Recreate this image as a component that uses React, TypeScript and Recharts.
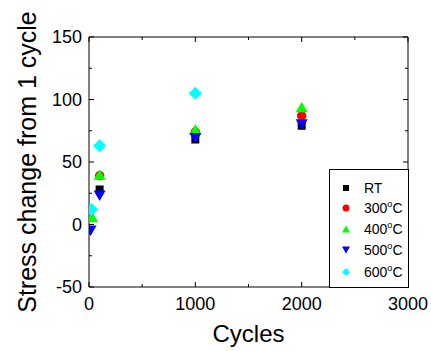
import React from 'react';
import { ScatterChart, Scatter, XAxis, YAxis, Legend } from 'recharts';

const FONT = '"Liberation Sans", Arial, sans-serif';

// Data
const seriesNames = ['RT', '300', '400', '500', '600'];
const rtCycles = [100, 1000, 2000];
const rtValues = [28, 68, 79];
const t300Cycles = [100, 1000, 2000];
const t300Values = [39, 74, 87];
const t400Cycles = [30, 100, 1000, 2000];
const t400Values = [6, 40, 76, 94];
const t500Cycles = [15, 100, 1000, 2000];
const t500Values = [-5, 23, 69, 80];
const t600Cycles = [25, 100, 1000];
const t600Values = [12, 63, 105];

const xTicks = [0, 500, 1000, 1500, 2000, 2500, 3000];
const yTicks = [-50, -25, 0, 25, 50, 75, 100, 125, 150];
const xMin = 0;
const xMax = 3000;
const yMin = -50;
const yMax = 150;

// Layout
const W = 431;
const H = 351;
const M = { top: 37, right: 23, bottom: 0, left: 0 };
const Y_AXIS_W = 89;
const X_AXIS_H = 64;
const PLOT_W = 319;
const PLOT_H = 250;

const toPoints = (xs: number[], ys: number[]) => xs.map((x, i) => ({ x, y: ys[i] }));

const colors = ['#000000', '#ff0000', '#00ff00', '#0000ff', '#00ffff'];

const Marker = ({ kind, cx, cy, s, fill }: any) => {
  if (kind === 0) return <rect x={cx - s / 2} y={cy - s / 2} width={s} height={s} fill={fill} />;
  if (kind === 1) return <circle cx={cx} cy={cy} r={s / 2} fill={fill} />;
  if (kind === 2) {
    const h = s * 0.87;
    return <polygon points={`${cx},${cy - h / 2} ${cx - s / 2},${cy + h / 2} ${cx + s / 2},${cy + h / 2}`} fill={fill} />;
  }
  if (kind === 3) {
    const h = s * 0.87;
    return <polygon points={`${cx},${cy + h / 2} ${cx - s / 2},${cy - h / 2} ${cx + s / 2},${cy - h / 2}`} fill={fill} />;
  }
  return <polygon points={`${cx},${cy - s / 2} ${cx + s / 2},${cy} ${cx},${cy + s / 2} ${cx - s / 2},${cy}`} fill={fill} />;
};

const plotSizes = [8, 9.5, 12, 12, 13];
const legendSizes = [6, 7, 8, 8, 8];

const makeShape = (kind: number) => (props: any) =>
  <Marker kind={kind} cx={props.cx} cy={props.cy} s={plotSizes[kind]} fill={colors[kind]} />;

// bottom axis tick: also draws the matching inward tick on the top frame
const BottomTick = (p: any) => {
  const v = p.payload.value;
  const major = v % 1000 === 0;
  const len = major ? 5 : 3;
  const x = Number(p.x);
  const y = Number(p.y);
  const topY = y - PLOT_H;
  return (
    <g>
      <path d={`M${x},${y}V${y - len}M${x},${topY}V${topY + len}`} stroke="#000" strokeWidth={1} fill="none" />
      {major && (
        <text x={x} y={y + 23} textAnchor="middle" fontSize={18} fontFamily={FONT} fill="#000">{v}</text>
      )}
    </g>
  );
};
// left axis tick: also draws the matching inward tick on the right frame
const LeftTick = (p: any) => {
  const v = p.payload.value;
  const major = v % 50 === 0;
  const len = major ? 5 : 3;
  const x = Number(p.x);
  const y = Number(p.y);
  const rightX = x + PLOT_W;
  return (
    <g>
      <path d={`M${x},${y}H${x + len}M${rightX},${y}H${rightX - len}`} stroke="#000" strokeWidth={1} fill="none" />
      {major && (
        <text x={x - 7} y={y + 6.4} textAnchor="end" fontSize={18} fontFamily={FONT} fill="#000">{v}</text>
      )}
    </g>
  );
};

const LegendBox = () => (
  <div style={{ position: 'relative', width: 80, height: 119, border: '1px solid #000', boxSizing: 'border-box', background: '#fff', fontFamily: FONT, fontSize: 14, color: '#000' }}>
    {seriesNames.map((n, i) => {
      const top = [18, 38, 59, 80, 102][i];
      return (
        <div key={n}>
          <svg style={{ position: 'absolute', left: 10, top: top - 6 }} width={12} height={12}>
            <Marker kind={i} cx={6} cy={6} s={legendSizes[i]} fill={colors[i]} />
          </svg>
          <div style={{ position: 'absolute', left: 34, top: top - 9, lineHeight: '18px', whiteSpace: 'nowrap' }}>
            {i === 0 ? n : (<span>{n}<sup style={{ fontSize: 9, verticalAlign: 'top', lineHeight: '10px' }}>o</sup>C</span>)}
          </div>
        </div>
      );
    })}
  </div>
);

export default function App() {
  const all = [
    toPoints(rtCycles, rtValues),
    toPoints(t300Cycles, t300Values),
    toPoints(t400Cycles, t400Values),
    toPoints(t500Cycles, t500Values),
    toPoints(t600Cycles, t600Values),
  ];
  return (
    <div>
      <style>{'body{margin:0;overflow:hidden}'}</style>
      <ScatterChart width={W} height={H} margin={M}>
        <XAxis
          dataKey="x"
          type="number"
          domain={[xMin, xMax]}
          allowDataOverflow
          ticks={xTicks}
          interval={0}
          height={X_AXIS_H}
          tickSize={0}
          tickMargin={0}
          tick={BottomTick}
          axisLine={{ stroke: '#000' }}
          label={(props: any) => {
            const vb = props.viewBox;
            return (
              <text x={vb.x + vb.width / 2} y={vb.y + 55} textAnchor="middle" fontSize={24} fontFamily={FONT} fill="#000">Cycles</text>
            );
          }}
        />
        <YAxis
          dataKey="y"
          type="number"
          domain={[yMin, yMax]}
          allowDataOverflow
          ticks={yTicks}
          interval={0}
          width={Y_AXIS_W}
          tickSize={0}
          tickMargin={0}
          tick={LeftTick}
          axisLine={{ stroke: '#000' }}
          label={(props: any) => {
            const vb = props.viewBox;
            const cy = vb.y + vb.height / 2;
            const x0 = vb.x + vb.width;
            const y0 = vb.y;
            return (
              <g>
                <path d={`M${x0},${y0}H${x0 + PLOT_W}V${y0 + PLOT_H}`} stroke="#000" strokeWidth={1} fill="none" />
                <text x={36} y={cy} transform={`rotate(-90 36 ${cy})`} textAnchor="middle" fontSize={25} fontFamily={FONT} fill="#000">Stress change from 1 cycle</text>
              </g>
            );
          }}
        />
        <Legend
          layout="vertical"
          align="center"
          verticalAlign="middle"
          content={() => <LegendBox />}
          wrapperStyle={{ position: 'absolute', left: 329, top: 169, width: 80, height: 119 }}
        />
        {all.map((pts, i) => (
          <Scatter key={i} name={seriesNames[i]} data={pts} fill={colors[i]} shape={makeShape(i)} isAnimationActive={false} />
        ))}
      </ScatterChart>
    </div>
  );
}
